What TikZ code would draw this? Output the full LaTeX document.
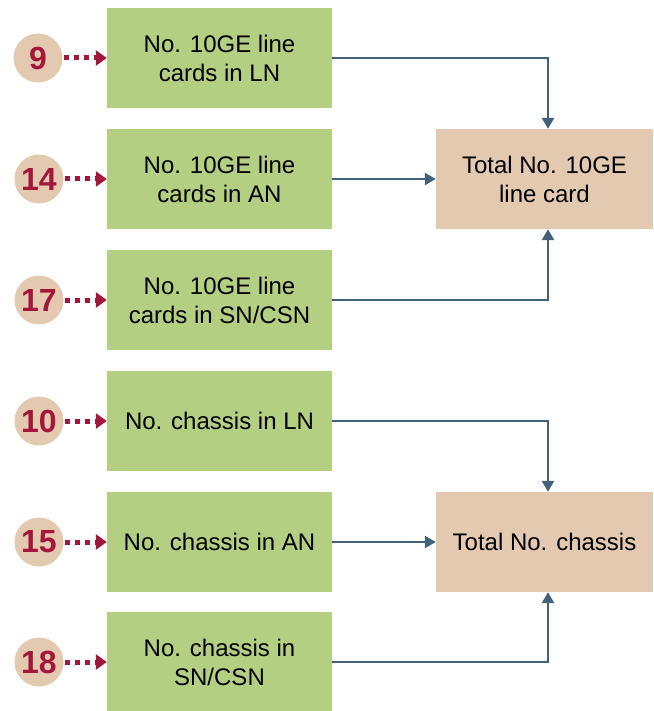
\documentclass[tikz,border=0pt]{standalone}
\usepackage{fontspec}
\setmainfont{Liberation Sans}
\usetikzlibrary{arrows.meta}
\definecolor{boxgreen}{HTML}{B3CF82}
\definecolor{boxtan}{HTML}{E3C9B0}
\definecolor{stepred}{HTML}{A3183A}
\definecolor{linkblue}{HTML}{436178}
\tikzset{
  x=1pt, y=1pt,
  inbox/.style={fill=boxgreen, minimum width=225pt, minimum height=100pt,
    align=center, font=\fontsize{24}{29}\selectfont, inner sep=0pt},
  sumbox/.style={fill=boxtan, minimum width=217pt, minimum height=100pt,
    align=center, font=\fontsize{24}{29}\selectfont, inner sep=0pt},
  badge/.style={circle, fill=boxtan, minimum size=49pt, inner sep=0pt,
    text=stepred, font=\fontsize{32}{32}\selectfont\bfseries},
  dotlink/.style={draw=stepred, line width=5pt, dash pattern=on 5pt off 5pt,
    -{Triangle[length=11pt,width=15pt]}},
  conn/.style={draw=linkblue, line width=2.5pt,
    -{Triangle[length=11pt,width=12pt]}},
}
\begin{document}
\begin{tikzpicture}
\useasboundingbox (0,0) rectangle (653,-711);
% input boxes
\node[inbox] (g1) at (219.5,-58) {No. 10GE line\\cards in LN};
\node[inbox] (g2) at (219.5,-179) {No. 10GE line\\cards in AN};
\node[inbox] (g3) at (219.5,-300) {No. 10GE line\\cards in SN/CSN};
\node[inbox] (g4) at (219.5,-421) {No. chassis in LN};
\node[inbox] (g5) at (219.5,-542) {No. chassis in AN};
\node[inbox] (g6) at (219.5,-662) {No. chassis in\\SN/CSN};
% totals
\node[sumbox] (t1) at (544.5,-179) {Total No. 10GE\\line card};
\node[sumbox] (t2) at (544.5,-542) {Total No. chassis};
% step badges
\node[badge] (c1) at (38,-58) {9};
\node[badge] (c2) at (39,-179) {14};
\node[badge] (c3) at (39,-300) {17};
\node[badge] (c4) at (39,-421) {10};
\node[badge] (c5) at (39,-542) {15};
\node[badge] (c6) at (39,-662) {18};
\foreach \i in {1,...,6}{
  \draw[dotlink] ([xshift=1pt]c\i.east) -- (g\i.west);
}
% links to totals
\draw[conn] (g1.east) -| ([xshift=3.5pt]t1.north);
\draw[conn] (g2.east) -- (t1.west);
\draw[conn] (g3.east) -| ([xshift=3.5pt]t1.south);
\draw[conn] (g4.east) -| ([xshift=3.5pt]t2.north);
\draw[conn] (g5.east) -- (t2.west);
\draw[conn] (g6.east) -| ([xshift=3.5pt]t2.south);
\end{tikzpicture}
\end{document}
